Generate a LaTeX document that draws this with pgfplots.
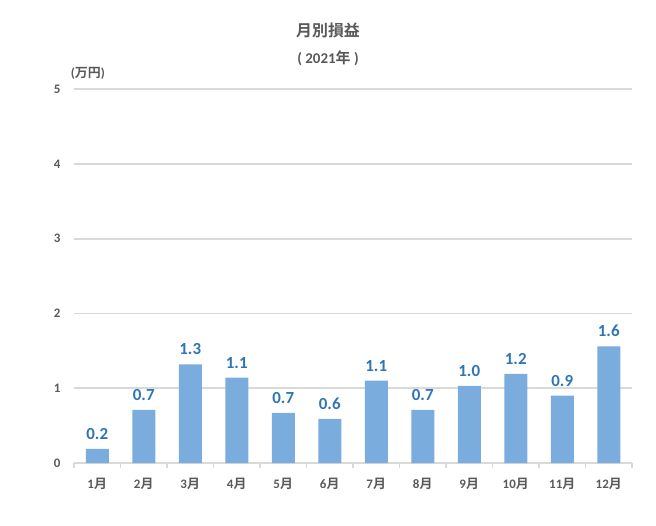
\documentclass[border=0pt]{standalone}
\usepackage{pgfplots}
\pgfplotsset{compat=1.18}
\usepackage{fontspec}
\setmainfont{Carlito}
\newfontfamily\cjk{Noto Sans CJK JP}[BoldFont={Noto Sans CJK JP Bold}]
\definecolor{barblue}{HTML}{7AADDE}
\definecolor{lblblue}{HTML}{2E75B6}
\definecolor{txtgray}{HTML}{595959}
\definecolor{gridgray}{HTML}{D9D9D9}
\begin{document}
\begin{tikzpicture}
\useasboundingbox (0,0) rectangle (656bp,526bp);
\begin{axis}[
  at={(74bp,63bp)}, anchor=south west,
  scale only axis, width=558bp, height=374bp,
  xmin=-0.5, xmax=11.5, ymin=0, ymax=5,
  ytick={0,1,2,3,4,5},
  xtick={0,...,11},
  xticklabels={1{\cjk 月},2{\cjk 月},3{\cjk 月},4{\cjk 月},5{\cjk 月},6{\cjk 月},7{\cjk 月},8{\cjk 月},9{\cjk 月},10{\cjk 月},11{\cjk 月},12{\cjk 月}},
  minor xtick={-0.5,0.5,...,11.5},
  major tick length=0pt,
  minor tick length=5bp,
  tick align=outside,
  axis x line*=bottom, axis y line*=left,
  x axis line style={draw=gridgray, line width=1.8bp, -},
  y axis line style={draw=none, -},
  every minor tick/.style={draw=gridgray, line width=1.2bp},
  ymajorgrids,
  grid style={draw=gridgray, line width=1.8bp},
  /pgf/number format/assume math mode=true,
  ticklabel style={font=\fontsize{13}{15}\selectfont\bfseries, text=txtgray},
  xticklabel style={yshift=-12bp},
  yticklabel style={xshift=-10bp},
  ybar, bar width=23bp,
  nodes near coords,
  every node near coord/.append style={font=\fontsize{17}{19}\selectfont\bfseries, text=lblblue, yshift=6bp,
    /pgf/number format/.cd, fixed, fixed zerofill, precision=1, assume math mode=true},
  clip=false,
]
\addplot[fill=barblue, draw=none] coordinates {
(0,0.19) (1,0.71) (2,1.32) (3,1.14) (4,0.67) (5,0.59) (6,1.10) (7,0.71) (8,1.03) (9,1.19) (10,0.90) (11,1.56)};
\node[font=\fontsize{13}{15}\selectfont\bfseries, text=txtgray, anchor=west] at (rel axis cs:-0.012,1.042) {({\cjk 万円})};
\end{axis}
\node[font=\fontsize{16}{18}\selectfont\bfseries, text=txtgray] at (328bp,496bp) {\cjk 月別損益};
\node[font=\fontsize{15}{17}\selectfont\bfseries, text=txtgray] at (328bp,468bp) {( 2021{\cjk 年} )};
\end{tikzpicture}
\end{document}
